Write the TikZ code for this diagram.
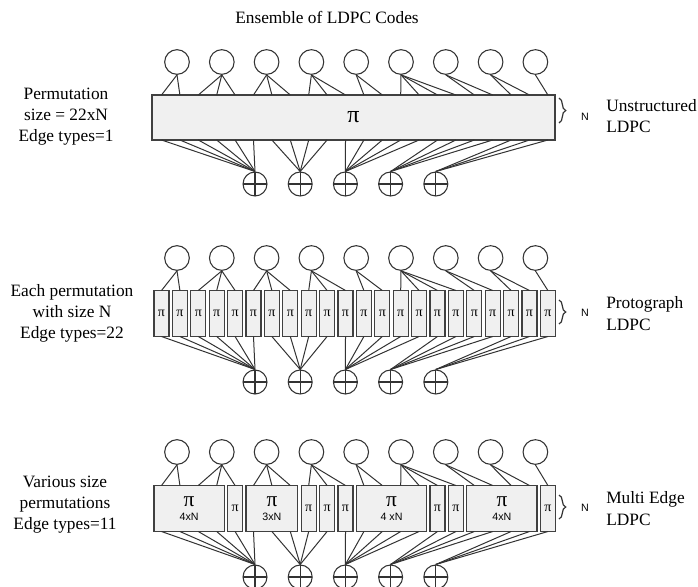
\documentclass[tikz,border=0pt]{standalone}
\usepackage{fontspec}
\setmainfont{Liberation Serif}
\setsansfont{Liberation Sans}
\usetikzlibrary{decorations.pathreplacing}
\tikzset{
  varnode/.style={circle, draw=black!80, fill=white, line width=0.8pt, minimum size=18.5pt, inner sep=0pt},
  checknode/.style={circle, draw=black!80, fill=white, line width=0.8pt, minimum size=18pt, inner sep=0pt,
    path picture={\draw[black!80, line width=0.8pt] (path picture bounding box.north) -- (path picture bounding box.south)
      (path picture bounding box.west) -- (path picture bounding box.east);}},
  permbox/.style={rectangle, draw=black!75, fill=black!6, line width=0.8pt, inner sep=0pt, align=center},
  tanner/.style={draw=black!80, line width=0.75pt},
  sidetext/.style={align=center, font=\fontsize{13}{15.8}\selectfont},
  typetext/.style={align=left, anchor=west, inner sep=0pt, font=\fontsize{13}{16.3}\selectfont},
  nbrace/.style={draw=black!80, line width=0.9pt, decorate, decoration={brace, amplitude=5pt}},
  nlabel/.style={inner sep=0pt, font=\sffamily\fontsize{8}{9}\selectfont}
}

\begin{document}
\begin{tikzpicture}[x=0.75pt, y=-0.75pt]
\useasboundingbox (0,0) rectangle (698,586);
\clip (0,0) rectangle (698,586);

\node[sidetext] (title) at (327,17) {Ensemble of LDPC Codes};

% permutation blocks
\node[permbox, minimum width=302.25pt, minimum height=33.75pt, font=\fontsize{18}{18}\selectfont] (abox) at (353.5,117.5) {π};

\foreach \k in {1,...,22}
  \node[permbox, minimum width=11.25pt, minimum height=34.5pt, font=\fontsize{10.5}{10.5}\selectfont] (bbox\k) at ({161.5+18.4*(\k-1)},313.5) {π};

\foreach \f/\l/\t in {1/4/4xN, 6/8/3xN, 12/15/4 xN, 18/21/4xN}{
  \pgfmathsetmacro\w{((\l-\f)*18.4+15)*0.75}
  \node[permbox, minimum width=\w pt, minimum height=34.5pt] (cbox\f) at ({161.5+18.4*((\f+\l)/2-1)},508.5)
    {{\fontsize{16}{16}\selectfont π}\\[-2pt]{\sffamily\fontsize{8}{8}\selectfont \t}};
}
\foreach \k in {5,9,10,11,16,17,22}
  \node[permbox, minimum width=11.25pt, minimum height=34.5pt, font=\fontsize{10.5}{10.5}\selectfont] (cbox\k) at ({161.5+18.4*(\k-1)},508.5) {π};

% variable and check nodes, edges
\foreach \p/\yv/\yt/\yb/\yc in {a/62/95/140/184, b/258/290.5/336.5/382, c/452/485.5/531.5/577}{
  \foreach \i in {1,...,9}
    \node[varnode] (\p v\i) at ({177+44.8*(\i-1)},\yv) {};
  \foreach \j in {1,...,5}
    \node[checknode] (\p c\j) at ({255+45.2*(\j-1)},\yc) {};
  \foreach \k in {1,...,22}{
    \coordinate (\p t\k) at ({161.5+18.4*(\k-1)},\yt);
    \coordinate (\p b\k) at ({161.5+18.4*(\k-1)},\yb);
  }
  \foreach \k/\v/\c in {1/1/1, 2/1/1, 3/2/1, 4/2/1, 5/2/1, 6/3/1, 7/3/2, 8/3/2, 9/4/2, 10/4/2, 11/4/3,
                        12/5/3, 13/5/3, 14/6/3, 15/6/3, 16/6/4, 17/6/4, 18/7/4, 19/7/4, 20/8/5, 21/8/5, 22/9/5}
    \draw[tanner] (\p v\v.south) -- (\p t\k) (\p b\k) -- (\p c\c.north);
}

\node[sidetext] (alab) at (66,117) {Permutation\\size = 22xN\\Edge types=1};
\node[sidetext] (blab) at (72,313) {Each permutation\\with size N\\Edge types=22};
\node[sidetext] (clab) at (65,505) {Various size\\permutations\\Edge types=11};

\draw[nbrace] (559,98) -- (559,123);
\draw[nbrace] (559,300) -- (559,324);
\draw[nbrace] (559,495) -- (559,519);
\node[nlabel] (an) at (585,117) {N};
\node[nlabel] (bn) at (585,313) {N};
\node[nlabel] (cn) at (585,508) {N};

\node[typetext] (atype) at (606,116) {Unstructured\\LDPC};
\node[typetext] (btype) at (606,313.5) {Protograph\\LDPC};
\node[typetext] (ctype) at (606,508.5) {Multi Edge\\LDPC};
\end{tikzpicture}
\end{document}
